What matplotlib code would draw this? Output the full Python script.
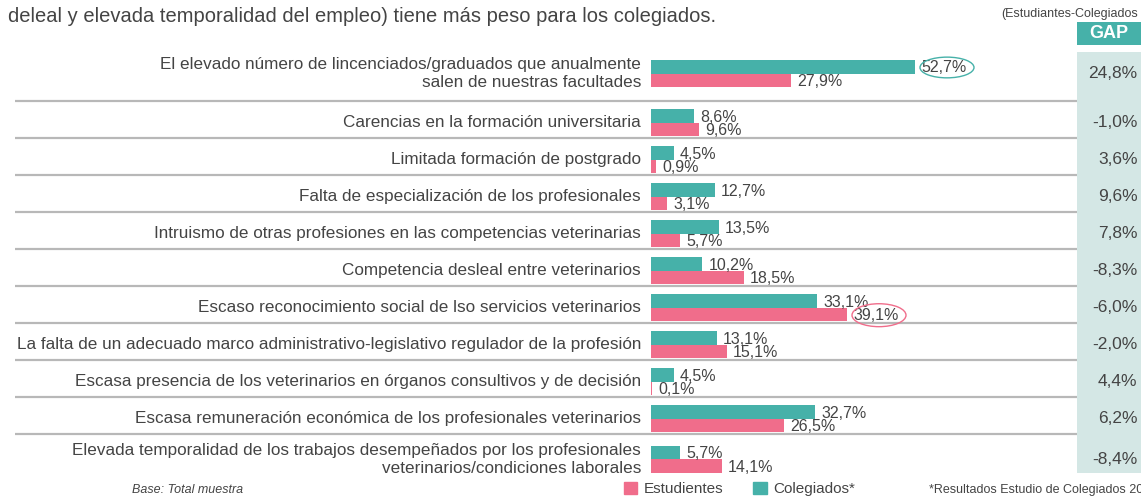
import matplotlib
matplotlib.use("Agg")
import matplotlib.pyplot as plt
from matplotlib.patches import Ellipse, Patch
import numpy as np

plt.rcParams['font.family'] = ['Liberation Sans', 'DejaVu Sans']

# ---- data ----
labels = [
    "El elevado número de lincenciados/graduados que anualmente\nsalen de nuestras facultades",
    "Carencias en la formación universitaria",
    "Limitada formación de postgrado",
    "Falta de especialización de los profesionales",
    "Intruismo de otras profesiones en las competencias veterinarias",
    "Competencia desleal entre veterinarios",
    "Escaso reconocimiento social de lso servicios veterinarios",
    "La falta de un adecuado marco administrativo-legislativo regulador de la profesión",
    "Escasa presencia de los veterinarios en órganos consultivos y de decisión",
    "Escasa remuneración económica de los profesionales veterinarios",
    "Elevada temporalidad de los trabajos desempeñados por los profesionales\nveterinarios/condiciones laborales",
]
colegiados = [52.7, 8.6, 4.5, 12.7, 13.5, 10.2, 33.1, 13.1, 4.5, 32.7, 5.7]
estudiantes = [27.9, 9.6, 0.9, 3.1, 5.7, 18.5, 39.1, 15.1, 0.1, 26.5, 14.1]
gap = ["24,8%", "-1,0%", "3,6%", "9,6%", "7,8%", "-8,3%", "-6,0%", "-2,0%", "4,4%", "6,2%", "-8,4%"]
row_height = [1.33, 1, 1, 1, 1, 1, 1, 1, 1, 1, 1.05]
circled = {0: "col", 6: "est"}

TEAL = "#46b1a9"
PINK = "#f06d8b"
TXT = "#444444"
GAPBG = "#d4e7e5"

W, H = 1141, 497
fig = plt.figure(figsize=(W / 100, H / 100), dpi=100)

# pixel geometry: axes spans x 15..1141 px, 5 px per %, zero at 651 px
PX = 5.0
UNIT = 37.0
x0_px, left_px = 651, 15
top_px = 52
ax = fig.add_axes([left_px / W, 0, (W - left_px) / W, 1])
ax.set_xlim(-(x0_px - left_px) / PX, (W - x0_px) / PX)
ax.set_ylim((H - top_px) / UNIT, -top_px / UNIT)
ax.axis("off")

edges = np.concatenate([[0], np.cumsum(row_height)])
# bars sit a bit lower in the taller last row
centers = edges[:-1] + 21.5 / UNIT + np.where(np.arange(len(row_height)) == len(row_height) - 1, 0.1, 0)
bh = 0.365

gap_left = (1077 - x0_px) / PX
gap_right = (W - x0_px) / PX

# GAP column
ax.fill_between([gap_left, gap_right], 0, edges[-1], color=GAPBG, lw=0, zorder=0)
ax.fill_between([gap_left, gap_right], -0.81, -0.19, color=TEAL, lw=0, zorder=0)
ax.text((gap_left + gap_right) / 2, -0.5, "GAP", color="white", fontsize=13,
        fontweight="bold", ha="center", va="center")
ax.text((1001 - x0_px) / PX, -1.03, "(Estudiantes-Colegiados", color=TXT, fontsize=9,
        ha="left", va="center", clip_on=False)

# separators
for e in edges[1:-1]:
    ax.plot([ax.get_xlim()[0], gap_left], [e, e], color="#b8b8b8", lw=1.6, zorder=1,
            solid_capstyle="butt")

ax.barh(centers - bh / 2, colegiados, height=bh, color=TEAL, zorder=2)
ax.barh(centers + bh / 2, estudiantes, height=bh, color=PINK, zorder=2)

for i, c in enumerate(centers):
    ax.text(-2, c, labels[i], ha="right", va="center", multialignment="right",
            color=TXT, fontsize=12.3, linespacing=1.25)
    ax.text(colegiados[i] + 1.3, c - bh / 2 + 0.03, f"{colegiados[i]:.1f}%".replace(".", ","),
            ha="left", va="center", color=TXT, fontsize=11.5)
    ax.text(estudiantes[i] + 1.3, c + bh / 2 + 0.03, f"{estudiantes[i]:.1f}%".replace(".", ","),
            ha="left", va="center", color=TXT, fontsize=11.5)
    ax.text(97.3, c, gap[i], ha="right", va="center", color=TXT, fontsize=12.5)
    if circled.get(i) == "col":
        ax.add_patch(Ellipse((colegiados[i] + 6.5, c - bh / 2 + 0.02), 10.8, 0.56,
                             fill=False, ec=TEAL, lw=1, zorder=3))
    elif circled.get(i) == "est":
        ax.add_patch(Ellipse((estudiantes[i] + 6.5, c + bh / 2 + 0.02), 10.8, 0.62,
                             fill=False, ec=PINK, lw=1, zorder=3))

# title (partial)
fig.text(8 / W, 1 - 17 / H, "deleal y elevada temporalidad del empleo) tiene más peso para los colegiados.",
         color=TXT, fontsize=14.5, ha="left", va="center")

# footer
fig.text(132 / W, 1 - 490 / H, "Base: Total muestra", style="italic", color=TXT,
         fontsize=9, ha="left", va="center")
fig.text(929 / W, 1 - 490 / H, "*Resultados Estudio de Colegiados 20", color=TXT,
         fontsize=9, ha="left", va="center")
handles = [Patch(color=PINK, label="Estudientes"), Patch(color=TEAL, label="Colegiados*")]
fig.legend(handles=handles, loc="center left", bbox_to_anchor=(616 / W, 1 - 489 / H),
           ncol=2, frameon=False, fontsize=11, handlelength=0.9, handleheight=0.9,
           handletextpad=0.4, columnspacing=1.95, labelcolor=TXT, borderpad=0)

fig.savefig("out.png", dpi=100)
